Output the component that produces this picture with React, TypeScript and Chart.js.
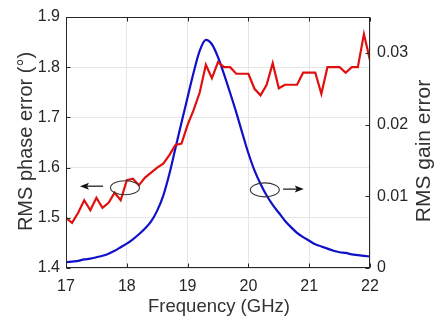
import React, { useEffect, useRef } from "react";
import { Chart, registerables } from "chart.js";

Chart.register(...registerables);

// ---- data ----
const frequencyGHz = [
  17.0, 17.1, 17.2, 17.3, 17.4, 17.5, 17.6, 17.7, 17.8, 17.9,
  18.0, 18.1, 18.2, 18.3, 18.4, 18.5, 18.6, 18.7, 18.8, 18.9,
  19.0, 19.1, 19.2, 19.3, 19.4, 19.5, 19.6, 19.7, 19.8, 19.9,
  20.0, 20.1, 20.2, 20.3, 20.4, 20.5, 20.6, 20.7, 20.8, 20.9,
  21.0, 21.1, 21.2, 21.3, 21.4, 21.5, 21.6, 21.7, 21.8, 21.9,
  22.0,
];

const phaseErrorDeg = [
  1.500, 1.490, 1.510, 1.535, 1.515, 1.540, 1.520, 1.530, 1.550, 1.535,
  1.575, 1.578, 1.565, 1.580, 1.590, 1.600, 1.608, 1.625, 1.645, 1.648,
  1.685, 1.715, 1.750, 1.805, 1.778, 1.810, 1.800, 1.800, 1.787, 1.787,
  1.787, 1.757, 1.744, 1.765, 1.808, 1.758, 1.765, 1.765, 1.765, 1.789,
  1.789, 1.789, 1.747, 1.800, 1.800, 1.800, 1.789, 1.800, 1.800, 1.866,
  1.814,
];

const gainError = [
  0.0008, 0.0009, 0.0010, 0.0012, 0.0013, 0.0015, 0.0017, 0.0020, 0.0024, 0.0029,
  0.0034, 0.0040, 0.0047, 0.0055, 0.0065, 0.0080, 0.0101, 0.0131, 0.0167, 0.0203,
  0.0238, 0.0273, 0.0303, 0.0318, 0.0312, 0.0294, 0.0270, 0.0244, 0.0217, 0.0188,
  0.0160, 0.0136, 0.0117, 0.0101, 0.0088, 0.0077, 0.0066, 0.0057, 0.0049, 0.0043,
  0.0038, 0.0033, 0.0030, 0.0027, 0.0024, 0.0022, 0.0021, 0.0019, 0.0018, 0.0017,
  0.0016,
];

const freqTicks = [17, 18, 19, 20, 21, 22];
const phaseTicks = [1.4, 1.5, 1.6, 1.7, 1.8, 1.9];
const gainTicks = [0, 0.01, 0.02, 0.03];

const xTitle = "Frequency (GHz)";
const yTitle = "RMS phase error (°)";
const y1Title = "RMS gain error";

// marker annotations (data coordinates)
const phaseMarker = { x: 17.97, y: 1.56, arrowFrom: 17.61, arrowTo: 17.23, arrowY: 1.563 };
const gainMarker = { x: 20.27, y: 0.0109, arrowFrom: 20.57, arrowTo: 20.91, arrowY: 0.0110 };

const FONT = "'Liberation Sans', Arial, Helvetica, sans-serif";

const decorPlugin = {
  id: "decor",
  afterDatasetsDraw(chart: any) {
    const { ctx, chartArea: a, scales } = chart;
    const xs = scales.x, ys = scales.y, y1s = scales.y1;
    ctx.save();

    // frame
    const L = Math.round(a.left) + 0.5, R = Math.round(a.right) - 0.5;
    const T = Math.round(a.top) + 0.5, B = Math.round(a.bottom) - 0.5;
    ctx.strokeStyle = "#262626";
    ctx.lineWidth = 1;
    ctx.strokeRect(L, T, R - L, B - T);

    // inward tick marks
    const tl = 4;
    ctx.beginPath();
    freqTicks.forEach((v) => {
      const px = Math.round(xs.getPixelForValue(v)) + 0.5;
      ctx.moveTo(px, B); ctx.lineTo(px, B - tl);
      ctx.moveTo(px, T); ctx.lineTo(px, T + tl);
    });
    phaseTicks.forEach((v) => {
      const py = Math.round(ys.getPixelForValue(v)) + 0.5;
      ctx.moveTo(L, py); ctx.lineTo(L + tl, py);
    });
    gainTicks.forEach((v) => {
      const py = Math.round(y1s.getPixelForValue(v)) + 0.5;
      ctx.moveTo(R, py); ctx.lineTo(R - tl, py);
    });
    ctx.stroke();

    // ellipses + arrows
    const drawMarker = (m: any, yScale: any) => {
      const cx = xs.getPixelForValue(m.x);
      const cy = yScale.getPixelForValue(m.y);
      ctx.strokeStyle = "#333333";
      ctx.lineWidth = 1.1;
      ctx.beginPath();
      ctx.ellipse(cx, cy, 14.5, 7, 0, 0, Math.PI * 2);
      ctx.stroke();
      const x0 = xs.getPixelForValue(m.arrowFrom);
      const x1 = xs.getPixelForValue(m.arrowTo);
      const ay = yScale.getPixelForValue(m.arrowY);
      const dir = Math.sign(x1 - x0);
      ctx.strokeStyle = "#111111";
      ctx.fillStyle = "#111111";
      ctx.lineWidth = 1.2;
      ctx.beginPath();
      ctx.moveTo(x0, ay);
      ctx.lineTo(x1 - dir * 6, ay);
      ctx.stroke();
      ctx.beginPath();
      ctx.moveTo(x1, ay);
      ctx.lineTo(x1 - dir * 9, ay - 3.5);
      ctx.lineTo(x1 - dir * 7, ay);
      ctx.lineTo(x1 - dir * 9, ay + 3.5);
      ctx.closePath();
      ctx.fill();
    };
    drawMarker(phaseMarker, ys);
    drawMarker(gainMarker, y1s);

    // axis titles
    ctx.fillStyle = "#333333";
    ctx.textAlign = "center";
    ctx.textBaseline = "alphabetic";
    ctx.font = `18.5px ${FONT}`;
    ctx.fillText(xTitle, (a.left + a.right) / 2 + 1, 312);

    ctx.font = `20px ${FONT}`;
    ctx.save();
    ctx.translate(32, (a.top + a.bottom) / 2 - 1);
    ctx.rotate(-Math.PI / 2);
    ctx.fillText(yTitle, 0, 0);
    ctx.restore();

    ctx.font = `21px ${FONT}`;
    ctx.save();
    ctx.translate(430, 151);
    ctx.rotate(-Math.PI / 2);
    ctx.fillText(y1Title, 0, 0);
    ctx.restore();

    ctx.restore();
  },
};

export default function App() {
  const canvasRef = useRef<HTMLCanvasElement | null>(null);

  useEffect(() => {
    const canvas = canvasRef.current;
    if (!canvas) return;
    const chart = new Chart(canvas, {
      type: "line",
      data: {
        datasets: [
          {
            label: "RMS phase error",
            data: frequencyGHz.map((f, i) => ({ x: f, y: phaseErrorDeg[i] })),
            yAxisID: "y",
            borderColor: "#e01010",
            borderWidth: 2.2,
            pointRadius: 0,
            tension: 0,
            fill: false,
          },
          {
            label: "RMS gain error",
            data: frequencyGHz.map((f, i) => ({ x: f, y: gainError[i] })),
            yAxisID: "y1",
            borderColor: "#1010c8",
            borderWidth: 2.2,
            pointRadius: 0,
            cubicInterpolationMode: "monotone",
            fill: false,
          },
        ],
      },
      options: {
        responsive: false,
        animation: false,
        devicePixelRatio: 1,
        layout: { padding: { top: 17, left: 0, right: 0, bottom: 0 } },
        plugins: {
          legend: { display: false },
          tooltip: { enabled: false },
        },
        scales: {
          x: {
            type: "linear",
            min: 17,
            max: 22,
            afterBuildTicks: (s: any) => { s.ticks = freqTicks.map((v) => ({ value: v })); },
            afterFit: (s: any) => { s.height = 52; },
            grid: { color: "#e6e6e6", drawTicks: false, lineWidth: 1 },
            border: { display: false },
            ticks: {
              padding: 9,
              color: "#262626",
              font: { family: FONT, size: 16 },
              maxRotation: 0,
              autoSkip: false,
              callback: (v: any) => String(v),
            },
          },
          y: {
            type: "linear",
            position: "left",
            min: 1.4,
            max: 1.9,
            afterBuildTicks: (s: any) => { s.ticks = phaseTicks.map((v) => ({ value: v })); },
            afterFit: (s: any) => { s.width = 66; },
            grid: { color: "#e6e6e6", drawTicks: false, lineWidth: 1 },
            border: { display: false },
            ticks: {
              padding: 6,
              color: "#262626",
              font: { family: FONT, size: 16 },
              callback: (v: any) => Number(v).toFixed(1),
            },
          },
          y1: {
            type: "linear",
            position: "right",
            min: 0,
            max: 0.035,
            afterBuildTicks: (s: any) => { s.ticks = gainTicks.map((v) => ({ value: v })); },
            afterFit: (s: any) => { s.width = 65; },
            grid: { display: false, drawTicks: false },
            border: { display: false },
            ticks: {
              padding: 7,
              color: "#262626",
              font: { family: FONT, size: 16 },
              callback: (v: any) => (Number(v) === 0 ? "0" : Number(v).toFixed(2)),
            },
          },
        },
      },
      plugins: [decorPlugin],
    } as any);
    return () => chart.destroy();
  }, []);

  return (
    <div style={{ position: "absolute", left: 0, top: 0, width: 435, height: 320, background: "#ffffff" }}>
      <canvas ref={canvasRef} width={435} height={320} style={{ display: "block", width: 435, height: 320 }} />
    </div>
  );
}
